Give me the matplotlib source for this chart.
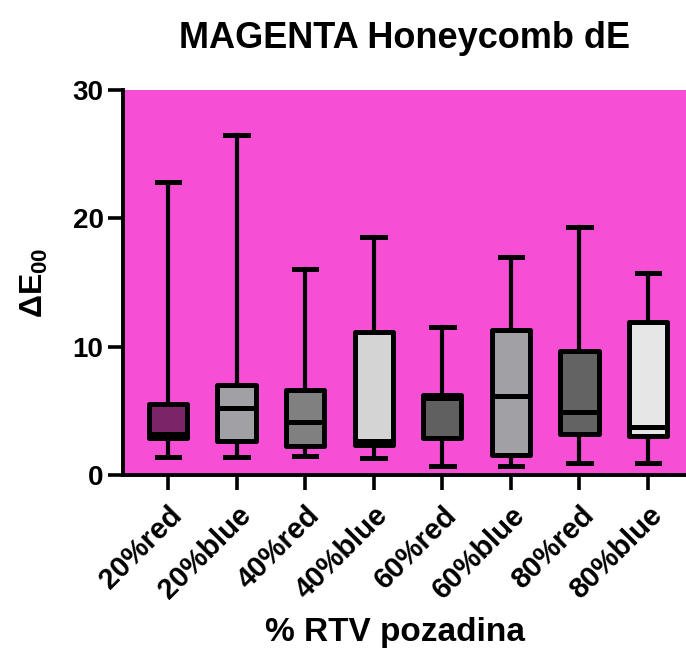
# magenta_honeycomb_box.py
# box plot of dE00 per background, drawn from precomputed box statistics
import matplotlib
matplotlib.use("Agg")
import matplotlib.pyplot as plt

plt.rcParams["font.family"] = ["Liberation Sans", "DejaVu Sans"]
plt.rcParams["font.weight"] = "bold"
plt.rcParams["mathtext.fontset"] = "custom"
plt.rcParams["mathtext.rm"] = "Liberation Sans:bold"
plt.rcParams["mathtext.it"] = "Liberation Sans:bold"
plt.rcParams["mathtext.bf"] = "Liberation Sans:bold"

labels = ["20%red", "20%blue", "40%red", "40%blue",
          "60%red", "60%blue", "80%red", "80%blue"]
whis_lo = [1.43, 1.43, 1.51, 1.30, 0.70, 0.70, 0.96, 0.96]
q1 = [2.86, 2.65, 2.29, 2.34, 2.86, 1.56, 3.20, 3.07]
med = [3.20, 5.25, 4.16, 2.65, 5.97, 6.16, 4.88, 3.77]
q3 = [5.50, 7.01, 6.62, 11.12, 6.23, 11.30, 9.66, 11.95]
whis_hi = [22.86, 26.47, 16.06, 18.52, 11.54, 17.00, 19.30, 15.74]

fills = ["#7b2468", "#a0a0a5", "#808080", "#d4d4d4",
         "#606060", "#a0a0a5", "#636363", "#e6e6e6"]
BG = "#f64fd6"

stats = []
for i, lab in enumerate(labels):
    stats.append(dict(label=lab, whislo=whis_lo[i], q1=q1[i], med=med[i],
                      q3=q3[i], whishi=whis_hi[i], fliers=[]))

fig = plt.figure(figsize=(6.86, 6.55), dpi=100)
ax = fig.add_axes([0.1793, 0.2748, 0.8207, 0.5878])
ax.set_facecolor(BG)

bp = ax.bxp(stats, positions=range(1, len(labels) + 1), widths=0.56,
            patch_artist=True, showfliers=False,
            boxprops=dict(linewidth=3.6, edgecolor="black", joinstyle="round"),
            medianprops=dict(color="black", linewidth=3.6),
            whiskerprops=dict(color="black", linewidth=3.0),
            capprops=dict(color="black", linewidth=3.6),
            capwidths=0.33)
for patch, c in zip(bp["boxes"], fills):
    patch.set_facecolor(c)
    patch.set_zorder(3)
for ln in bp["medians"]:
    ln.set_zorder(4)

ax.set_xlim(0.343, 8.555)
ax.set_ylim(0, 30)
ax.set_yticks([0, 10, 20, 30])
ax.set_xticklabels(labels, rotation=45, ha="right", rotation_mode="anchor",
                   fontsize=21, fontweight="bold")
ax.tick_params(axis="y", labelsize=20, length=11, width=2.6, pad=3)
ax.tick_params(axis="x", length=11, width=2.6, pad=8)

for s in ["top", "right"]:
    ax.spines[s].set_visible(False)
for s in ["left", "bottom"]:
    ax.spines[s].set_linewidth(2.8)

ax.set_title("MAGENTA Honeycomb dE", fontsize=26, fontweight="bold", pad=30)
ax.set_ylabel(r"$\Delta E_{00}$", fontsize=23, labelpad=16)
ax.set_xlabel("% RTV pozadina", fontsize=24, fontweight="bold", labelpad=14)
ax.xaxis.set_label_coords(0.483, -0.37)

fig.savefig("out.png", dpi=100, facecolor="white")
